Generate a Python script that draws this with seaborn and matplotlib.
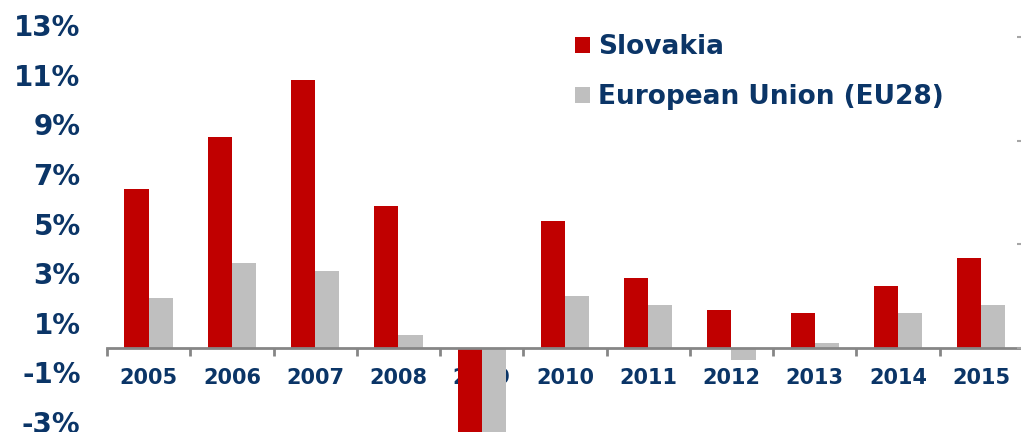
import pandas as pd
import numpy as np
import seaborn as sns
import matplotlib.pyplot as plt
from matplotlib.ticker import FixedLocator

years = ['2005', '2006', '2007', '2008', '2009', '2010', '2011', '2012', '2013', '2014', '2015']
slovakia = [6.4, 8.5, 10.8, 5.7, -5.5, 5.1, 2.8, 1.5, 1.4, 2.5, 3.6]
eu28 = [2.0, 3.4, 3.1, 0.5, -4.4, 2.1, 1.7, -0.5, 0.2, 1.4, 1.7]
series_names = ['Slovakia', 'European Union (EU28)']
y_ticks = [-3, -1, 1, 3, 5, 7, 9, 11, 13]

navy = '#0B3567'
red = '#C00000'
grey = '#BFBFBF'
axis_grey = '#868686'

df = pd.DataFrame({
    'year': years * 2,
    'growth': slovakia + eu28,
    'series': [series_names[0]] * len(years) + [series_names[1]] * len(years),
})

sns.set_style('white')
plt.rcParams['font.family'] = ['DejaVu Sans']

fig = plt.figure(figsize=(10.21, 4.32), dpi=100)
# axes run to the bottom edge so the 2009 bars fall off the picture
ax = fig.add_axes([0.1048, 0.0, 0.897, 0.942])

sns.barplot(data=df, x='year', y='growth', hue='series', order=years,
            hue_order=series_names, palette=[red, grey], width=0.58,
            gap=0, linewidth=0, saturation=1, ax=ax)

ax.set_ylim(-3.4, 13)
ax.set_xlim(-0.5, len(years) - 0.5)
ax.set_yticks(y_ticks)
ax.set_yticklabels([f'{v}%' for v in y_ticks], fontsize=20, fontweight='bold', color=navy)
ax.tick_params(axis='y', length=0, pad=19)

# category axis sits on the zero line, tick marks between categories
for s in ['left', 'right', 'top']:
    ax.spines[s].set_visible(False)
ax.spines['bottom'].set_position(('data', 0))
ax.spines['bottom'].set_color(axis_grey)
ax.spines['bottom'].set_linewidth(2)
ax.set_xticks(range(len(years)))
ax.set_xticklabels(years, fontsize=15, fontweight='bold', color=navy)
ax.tick_params(axis='x', which='major', bottom=True, length=0, pad=15)
ax.xaxis.set_minor_locator(FixedLocator(np.arange(-0.5, len(years), 1)))
ax.tick_params(axis='x', which='minor', bottom=True, length=6, width=2,
               color=axis_grey, direction='out')
ax.set_xlabel('')
ax.set_ylabel('')
for t in ax.get_xticklabels():
    t.set_zorder(5)

leg = ax.legend(frameon=False, loc='upper left', bbox_to_anchor=(0.50, 1.003),
                fontsize=19, handlelength=0.55, handleheight=0.55, handletextpad=0.3,
                labelspacing=0.9, borderaxespad=0)
for txt in leg.get_texts():
    txt.set_color(navy)
    txt.set_fontweight('bold')

# faint secondary axis ticks at the right edge
ax2 = ax.twinx()
ax2.set_ylim(-0.714 - 0.4 * 24.8 / 103.7, 3.115)
ax2.set_yticks([0, 1, 2, 3])
ax2.set_yticklabels([])
ax2.tick_params(axis='y', right=True, length=4, width=1.5, color='#A6A6A6', direction='in')
for s in ax2.spines.values():
    s.set_visible(False)

fig.savefig('out.png', dpi=100)
